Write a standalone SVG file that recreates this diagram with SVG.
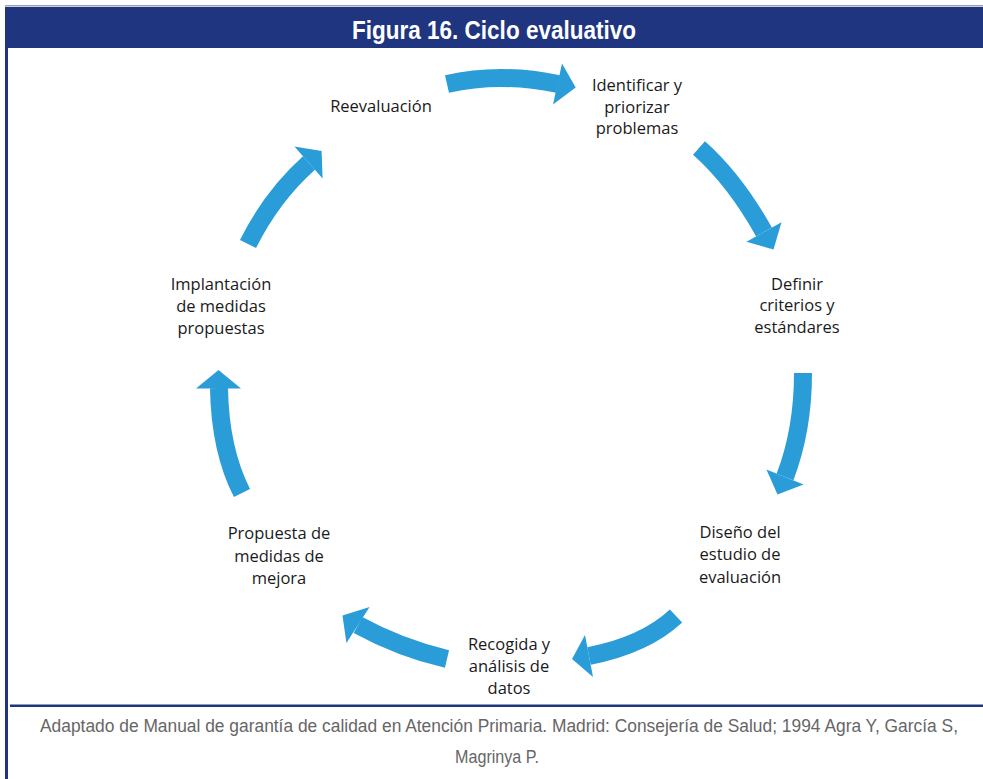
<svg xmlns="http://www.w3.org/2000/svg" width="983" height="779" viewBox="0 0 983 779">
<style>
.lbl{font-family:"Open Sans","Noto Sans",sans-serif;font-size:16.5px;fill:#1a1a1a;text-anchor:middle}
.arc{fill:none;stroke:#2a9dd8;stroke-width:18}
.head{fill:#2a9dd8}
.foot{font-family:"Liberation Sans",Arial,sans-serif;font-size:17.5px;fill:#666;text-anchor:middle}
</style>
<rect width="983" height="779" fill="#fff"/>
<g id="frame">
<rect x="5" y="5" width="978" height="1.5" fill="#9aa0b5"/>
<rect x="5" y="7" width="978" height="41" fill="#1f3580"/>
<rect x="5" y="48" width="3" height="731" fill="#1f3580"/>
<rect x="10" y="704.5" width="973" height="2.5" fill="#1f3580"/>
<text x="494" y="39" font-family="'Liberation Sans',Arial,sans-serif" font-weight="bold" font-size="25" fill="#fff" text-anchor="middle" textLength="284" lengthAdjust="spacingAndGlyphs">Figura 16. Ciclo evaluativo</text>
</g>
<g id="connectors">
<path class="arc" d="M447,84 Q500,72 558,84"/>
<polygon class="head" points="562,63.4 575.7,87.4 553,104.6"/>
<path class="arc" d="M699,148 Q735,180 764,232"/>
<polygon class="head" points="781.5,222.2 773.5,249.5 746.5,241.8"/>
<path class="arc" d="M803,373 Q803,430 785,477"/>
<polygon class="head" points="803.6,484.6 777.5,494.6 766.4,469.4"/>
<path class="arc" d="M676,616 Q645,645 589,656"/>
<polygon class="head" points="585,635 572,659 593,677"/>
<path class="arc" d="M447,659 Q400,648 358,625"/>
<polygon class="head" points="369.6,607 342.5,615.5 346.4,643"/>
<path class="arc" d="M242,493 Q220,450 219,388"/>
<polygon class="head" points="196,388.5 218.5,370 241,388.5"/>
<path class="arc" d="M248,244 Q272,196 309,163"/>
<polygon class="head" points="294.4,146.4 321.6,151 322.6,178.6"/>
</g>
<g id="n1"><text class="lbl" x="381" y="112">Reevaluación</text></g>
<g id="n2"><text class="lbl" x="637" y="91">Identificar y</text><text class="lbl" x="637" y="113">priorizar</text><text class="lbl" x="637" y="134">problemas</text></g>
<g id="n3"><text class="lbl" x="797" y="290">Definir</text><text class="lbl" x="797" y="311">criterios y</text><text class="lbl" x="797" y="333">estándares</text></g>
<g id="n4"><text class="lbl" x="740" y="538">Diseño del</text><text class="lbl" x="740" y="560">estudio de</text><text class="lbl" x="740" y="583">evaluación</text></g>
<g id="n5"><text class="lbl" x="509" y="650">Recogida y</text><text class="lbl" x="509" y="672">análisis de</text><text class="lbl" x="509" y="694">datos</text></g>
<g id="n6"><text class="lbl" x="279" y="539">Propuesta de</text><text class="lbl" x="279" y="562">medidas de</text><text class="lbl" x="279" y="584">mejora</text></g>
<g id="n7"><text class="lbl" x="221" y="290">Implantación</text><text class="lbl" x="221" y="312">de medidas</text><text class="lbl" x="221" y="334">propuestas</text></g>
<g id="source">
<text class="foot" x="499" y="732" textLength="918" lengthAdjust="spacingAndGlyphs">Adaptado de Manual de garantía de calidad en Atención Primaria. Madrid: Consejería de Salud; 1994 Agra Y, García S,</text>
<text class="foot" x="497" y="763" textLength="84" lengthAdjust="spacingAndGlyphs">Magrinya P.</text>
</g>
</svg>
